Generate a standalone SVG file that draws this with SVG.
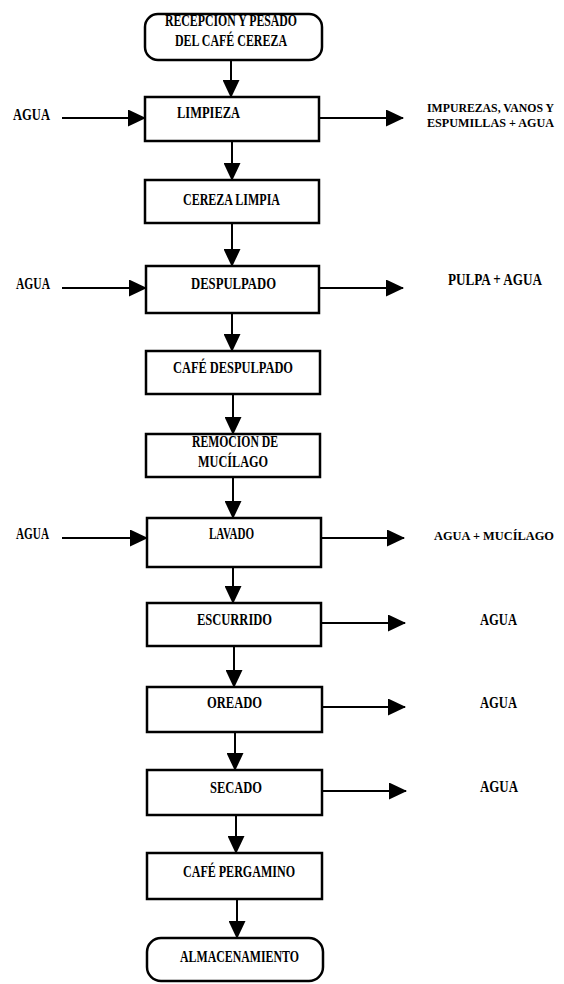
<svg xmlns="http://www.w3.org/2000/svg" width="564" height="984" viewBox="0 0 564 984">
<style>
.bg{fill:#ffffff}
.box{fill:#ffffff;stroke:#000000;stroke-width:2.5}
.ln{fill:none;stroke:#000000;stroke-width:2;marker-end:url(#ah)}
text{font-family:"Liberation Serif","Times New Roman",serif;font-weight:bold;font-size:16px;fill:#000000}
.sm{font-size:13px}
.xs{font-size:12px}
</style>
<defs>
<marker id="ah" markerUnits="userSpaceOnUse" markerWidth="18" markerHeight="17" refX="17" refY="8.5" orient="auto">
<path d="M0,0 L18,8.5 L0,17 z" fill="#000000"/>
</marker>
</defs>
<rect class="bg" x="0" y="0" width="564" height="984"/>
<g id="connectors">
<line class="ln" x1="231" y1="61" x2="231" y2="97"/>
<line class="ln" x1="232" y1="142" x2="232" y2="180"/>
<line class="ln" x1="232" y1="223" x2="232" y2="266"/>
<line class="ln" x1="232" y1="314" x2="232" y2="351"/>
<line class="ln" x1="233" y1="395" x2="233" y2="434"/>
<line class="ln" x1="233" y1="478" x2="233" y2="518"/>
<line class="ln" x1="233" y1="568" x2="233" y2="603"/>
<line class="ln" x1="234" y1="647" x2="234" y2="687"/>
<line class="ln" x1="235" y1="733" x2="235" y2="770"/>
<line class="ln" x1="236" y1="816" x2="236" y2="853"/>
<line class="ln" x1="237" y1="900" x2="237" y2="938"/>
<line class="ln" x1="62" y1="118" x2="145" y2="118"/>
<line class="ln" x1="62" y1="288" x2="146" y2="288"/>
<line class="ln" x1="62" y1="538" x2="147" y2="538"/>
<line class="ln" x1="320" y1="118" x2="403" y2="118"/>
<line class="ln" x1="320" y1="288" x2="403" y2="288"/>
<line class="ln" x1="322" y1="538" x2="404" y2="538"/>
<line class="ln" x1="322" y1="623" x2="405" y2="623"/>
<line class="ln" x1="323" y1="707" x2="405" y2="707"/>
<line class="ln" x1="323" y1="791" x2="406" y2="791"/>
</g>
<g id="recepcion">
<rect class="box" x="145" y="14" width="177" height="46" rx="13"/>
<text x="165" y="26" textLength="132" lengthAdjust="spacingAndGlyphs">RECEPCION Y PESADO</text>
<text x="175" y="46" textLength="112" lengthAdjust="spacingAndGlyphs">DEL CAFÉ CEREZA</text>
</g>
<g id="limpieza">
<rect class="box" x="145" y="97" width="174" height="44"/>
<text x="177" y="118" textLength="63" lengthAdjust="spacingAndGlyphs">LIMPIEZA</text>
</g>
<g id="agua-in-1"><text x="13" y="120" textLength="37" lengthAdjust="spacingAndGlyphs">AGUA</text></g>
<g id="impurezas">
<text class="xs" x="427" y="112" textLength="127" lengthAdjust="spacingAndGlyphs">IMPUREZAS, VANOS Y</text>
<text class="sm" x="427" y="127" textLength="127" lengthAdjust="spacingAndGlyphs">ESPUMILLAS + AGUA</text>
</g>
<g id="cereza-limpia">
<rect class="box" x="145" y="180" width="174" height="43"/>
<text x="183" y="205" textLength="97" lengthAdjust="spacingAndGlyphs">CEREZA LIMPIA</text>
</g>
<g id="despulpado">
<rect class="box" x="146" y="266" width="173" height="47"/>
<text x="191" y="289" textLength="85" lengthAdjust="spacingAndGlyphs">DESPULPADO</text>
</g>
<g id="agua-in-2"><text x="16" y="289" textLength="34" lengthAdjust="spacingAndGlyphs">AGUA</text></g>
<g id="pulpa"><text x="448" y="285" textLength="94" lengthAdjust="spacingAndGlyphs">PULPA + AGUA</text></g>
<g id="cafe-despulpado">
<rect class="box" x="146" y="351" width="174" height="43"/>
<text x="173" y="373" textLength="120" lengthAdjust="spacingAndGlyphs">CAFÉ DESPULPADO</text>
</g>
<g id="remocion">
<rect class="box" x="146" y="434" width="174" height="43"/>
<text x="192" y="447" textLength="86" lengthAdjust="spacingAndGlyphs">REMOCION DE</text>
<text x="198" y="467" textLength="70" lengthAdjust="spacingAndGlyphs">MUCÍLAGO</text>
</g>
<g id="lavado">
<rect class="box" x="147" y="518" width="174" height="49"/>
<text x="209" y="539" textLength="45" lengthAdjust="spacingAndGlyphs">LAVADO</text>
</g>
<g id="agua-in-3"><text x="16" y="539" textLength="33" lengthAdjust="spacingAndGlyphs">AGUA</text></g>
<g id="agua-mucilago"><text class="sm" x="434" y="540" textLength="120" lengthAdjust="spacingAndGlyphs">AGUA + MUCÍLAGO</text></g>
<g id="escurrido">
<rect class="box" x="147" y="603" width="174" height="43"/>
<text x="197" y="625" textLength="75" lengthAdjust="spacingAndGlyphs">ESCURRIDO</text>
</g>
<g id="agua-out-1"><text x="480" y="625" textLength="37" lengthAdjust="spacingAndGlyphs">AGUA</text></g>
<g id="oreado">
<rect class="box" x="147" y="687" width="175" height="45"/>
<text x="207" y="708" textLength="55" lengthAdjust="spacingAndGlyphs">OREADO</text>
</g>
<g id="agua-out-2"><text x="480" y="708" textLength="37" lengthAdjust="spacingAndGlyphs">AGUA</text></g>
<g id="secado">
<rect class="box" x="147" y="770" width="175" height="45"/>
<text x="210" y="793" textLength="52" lengthAdjust="spacingAndGlyphs">SECADO</text>
</g>
<g id="agua-out-3"><text x="480" y="792" textLength="38" lengthAdjust="spacingAndGlyphs">AGUA</text></g>
<g id="cafe-pergamino">
<rect class="box" x="147" y="853" width="175" height="46"/>
<text x="183" y="877" textLength="112" lengthAdjust="spacingAndGlyphs">CAFÉ PERGAMINO</text>
</g>
<g id="almacenamiento">
<rect class="box" x="147" y="938" width="176" height="43" rx="14"/>
<text x="180" y="962" textLength="119" lengthAdjust="spacingAndGlyphs">ALMACENAMIENTO</text>
</g>
</svg>
